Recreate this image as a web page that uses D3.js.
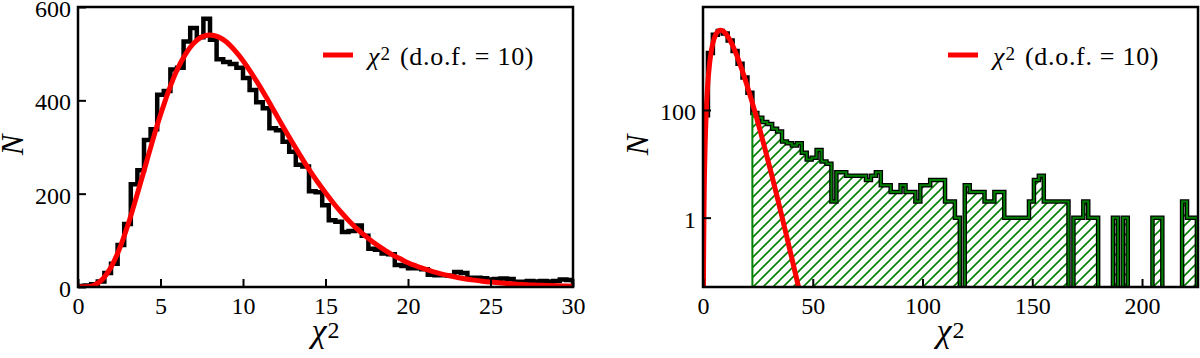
<!DOCTYPE html>
<html>
<head>
<meta charset="utf-8">
<script src="https://cdn.jsdelivr.net/npm/d3@7"></script>
<style>
  body { margin: 0; background: #fff; }
</style>
</head>
<body>
<script>
// ---- data ----
// left panel: chi2 values, bins of 0.4 from 0 to 30
const leftBinWidth = 0.4;
const leftCounts = [
  2, 3, 6, 12, 30, 50, 90, 135, 220, 250,
  315, 338, 412, 420, 466, 470, 526, 555, 535, 575,
  530, 488, 482, 478, 470, 448, 422, 396, 383, 340,
  336, 311, 290, 262, 258, 205, 203, 175, 143, 140,
  118, 120, 132, 110, 82, 80, 72, 70, 47, 45,
  40, 40, 38, 26, 25, 25, 24, 32, 30, 20,
  20, 19, 16, 17, 18, 17, 11, 11, 13, 12,
  13, 12, 13, 16, 15
];

// right panel: same sample, bins of 2.25 from 0 to 225 (log y)
const rightBinWidth = 2.25;
const rightCounts = [
  80, 1150, 2500, 2950, 2650, 1950, 1250, 720, 400, 210,
  88, 72, 60, 55, 45, 40, 26, 24, 22, 24,
  16, 12, 13, 18, 11, 10, 2, 7, 7, 6,
  6, 6, 6, 5, 6, 7, 4, 4, 3, 3,
  4, 3, 3, 2, 4, 4, 5, 5, 5, 2,
  2, 1, 0, 4, 3, 3, 3, 2, 2, 3,
  3, 1, 1, 1, 1, 1, 2, 5, 6, 2,
  2, 2, 2, 2, 0, 1, 1, 2, 1, 1,
  0, 0, 0, 1, 0, 1, 0, 0, 0, 0,
  0, 1, 1, 0, 0, 0, 0, 2, 1, 1
];
const tailStart = 22.5;   // green hatched part starts here

// red chi2 (dof = 10) curve
const curveLeftX = d3.range(0, 30.01, 0.5);
const curveLeftY = [
  0, 0.35, 4.4, 17.2, 42.4, 80.6, 130, 188, 249, 311,
  369, 421, 465, 498, 522, 536, 540, 536, 525, 507,
  485, 459, 431, 401, 370, 339, 309, 280, 252, 226,
  202, 179, 158, 139, 122, 107, 93, 81, 70, 61,
  52, 45, 38.6, 33, 28.2, 24, 20.4, 17.3, 14.7, 12.4,
  10.5, 8.9, 7.5, 6.3, 5.2, 4.4, 3.7, 3.1, 2.6, 2.2, 1.8
];
const curveRightX = [0.1, 0.25, 0.5, 1, 1.5, 2, 3, 4, 5, 6, 7, 8, 9, 10, 12, 14, 16, 18, 20,
  22, 24, 26, 28, 30, 32, 34, 36, 38, 40, 42, 44];
const curveRightY = [0.004, 0.14, 1.97, 24.5, 96.6, 238, 730, 1399, 2073, 2607, 2929, 3031, 2945, 2722,
  2077, 1415, 888, 523, 293, 158, 82.3, 41.7, 20.7, 10.0, 4.77, 2.24, 1.03, 0.472, 0.213, 0.0953, 0.0422];

const leftXTicks = [0, 5, 10, 15, 20, 25, 30];
const leftYTicks = [0, 200, 400, 600];
const rightXTicks = [0, 50, 100, 150, 200];
const rightYTicks = [1, 100];
const legendText = "(d.o.f. = 10)";

// ---- layout ----
const width = 1200, height = 358;
const plotTop = 7, plotBot = 287;
const tickLen = 8;
const red = "#ff0000", green = "#008000";
const serif = "Liberation Serif";

const svg = d3.select("body").append("svg")
  .attr("width", width)
  .attr("height", height)
  .attr("font-family", serif);

const defs = svg.append("defs");
defs.append("pattern")
  .attr("id", "hatch")
  .attr("patternUnits", "userSpaceOnUse")
  .attr("width", 10).attr("height", 10)
  .append("path")
  .attr("d", "M-2,2L2,-2M0,10L10,0M8,12L12,8")
  .attr("stroke", green)
  .attr("stroke-width", 1.6);

function binEdges(n, w) { return d3.range(n + 1).map(i => i * w); }

// step outline of a histogram, starting and ending at the floor value
function stepPoints(edges, counts, floorVal) {
  const pts = [[edges[0], floorVal]];
  counts.forEach((c, i) => pts.push([edges[i], Math.max(c, floorVal)]));
  pts.push([edges[counts.length], Math.max(counts[counts.length - 1], floorVal)]);
  pts.push([edges[counts.length], floorVal]);
  return pts;
}

function panel(id, x0, x1) {
  const g = svg.append("g");
  defs.append("clipPath").attr("id", "clip-" + id)
    .append("rect").attr("x", x0).attr("y", plotTop).attr("width", x1 - x0).attr("height", plotBot - plotTop);
  const plot = g.append("g").attr("clip-path", "url(#clip-" + id + ")");
  return { g, plot };
}

function frame(g, x0, x1) {
  g.append("rect")
    .attr("x", x0).attr("y", plotTop)
    .attr("width", x1 - x0).attr("height", plotBot - plotTop)
    .attr("fill", "none").attr("stroke", "#000").attr("stroke-width", 2.5);
}

function axes(g, xScale, yScale, xTicks, yTicks, x0) {
  const ax = g.append("g")
    .attr("transform", "translate(0," + plotBot + ")")
    .call(d3.axisBottom(xScale).tickValues(xTicks).tickFormat(d3.format("d"))
      .tickSizeInner(-tickLen).tickSizeOuter(0).tickPadding(10));
  const ay = g.append("g")
    .attr("transform", "translate(" + x0 + ",0)")
    .call(d3.axisLeft(yScale).tickValues(yTicks).tickFormat(d3.format("d"))
      .tickSizeInner(-tickLen).tickSizeOuter(0).tickPadding(7));
  [ax, ay].forEach(a => {
    a.attr("font-family", serif).attr("font-size", 24);
    a.select(".domain").remove();
    a.selectAll(".tick line").attr("stroke", "#000").attr("stroke-width", 2);
    a.selectAll(".tick text").attr("fill", "#000").attr("font-family", serif);
  });
  ay.selectAll(".tick text").attr("dy", "0.4em");
}

function labels(g, x0, x1) {
  // x label chi^2
  const xl = g.append("text")
    .attr("x", (x0 + x1) / 2).attr("y", 342)
    .attr("text-anchor", "middle")
    .attr("font-family", serif)
    .attr("font-size", 34);
  xl.append("tspan").attr("font-style", "italic").text("χ");
  xl.append("tspan").attr("font-size", 24).attr("dx", 1).attr("dy", -4).text("2");
  // y label N
  g.append("text")
    .attr("transform", "translate(" + (x0 - 55) + "," + ((plotTop + plotBot) / 2 - 2) + ") rotate(-90)")
    .attr("text-anchor", "middle")
    .attr("font-family", serif)
    .attr("font-size", 31)
    .attr("font-style", "italic")
    .text("N");
  // legend
  const lx = x1 - 250, ly = 55;
  g.append("line")
    .attr("x1", lx).attr("x2", lx + 30)
    .attr("y1", ly).attr("y2", ly)
    .attr("stroke", red).attr("stroke-width", 5);
  const lt = g.append("text")
    .attr("x", lx + 45).attr("y", ly + 10)
    .attr("font-family", serif)
    .attr("font-size", 26);
  lt.append("tspan").attr("font-style", "italic").text("χ");
  lt.append("tspan").attr("font-size", 19).attr("dx", 1).attr("dy", -5).text("2");
  lt.append("tspan").attr("dx", 10).attr("dy", 5).attr("letter-spacing", 0.7).text(legendText);
}

// ---- left panel: linear ----
{
  const x0 = 78, x1 = 573;
  const x = d3.scaleLinear().domain([0, 30]).range([x0, x1]);
  const y = d3.scaleLinear().domain([0, 600]).range([plotBot, plotTop]);
  const { g, plot } = panel("l", x0, x1);
  const edges = binEdges(leftCounts.length, leftBinWidth);
  const line = d3.line().x(d => x(d[0])).y(d => y(d[1])).curve(d3.curveStepAfter);
  plot.append("path")
    .attr("d", line(stepPoints(edges, leftCounts, 0)))
    .attr("fill", "none").attr("stroke", "#000").attr("stroke-width", 4.5);
  const curve = d3.line().x(d => x(d[0])).y(d => y(d[1])).curve(d3.curveMonotoneX);
  plot.append("path")
    .attr("d", curve(curveLeftX.map((v, i) => [v, curveLeftY[i]])))
    .attr("fill", "none").attr("stroke", red).attr("stroke-width", 5);
  frame(g, x0, x1);
  axes(g, x, y, leftXTicks, leftYTicks, x0);
  labels(g, x0, x1);
}

// ---- right panel: log ----
{
  const x0 = 703, x1 = 1198;
  const x = d3.scaleLinear().domain([0, 225.5]).range([x0, x1]);
  const y = d3.scaleLog().domain([0.0515, 8200]).range([plotBot, plotTop]);
  const floorVal = 0.01;
  const { g, plot } = panel("r", x0, x1);
  const edges = binEdges(rightCounts.length, rightBinWidth);
  const line = d3.line().x(d => x(d[0])).y(d => y(d[1])).curve(d3.curveStepAfter);

  // tail part (green, hatched)
  const k0 = Math.round(tailStart / rightBinWidth);
  const tailEdges = edges.slice(k0);
  const tailCounts = rightCounts.slice(k0);
  const tailPts = stepPoints(tailEdges, tailCounts, floorVal);
  plot.append("path")
    .attr("d", line(tailPts) + "Z")
    .attr("fill", "url(#hatch)").attr("stroke", "none");
  plot.append("path")
    .attr("d", line(stepPoints(edges, rightCounts, floorVal)))
    .attr("fill", "none").attr("stroke", "#000").attr("stroke-width", 4.5);
  plot.append("path")
    .attr("d", line(tailPts))
    .attr("fill", "none").attr("stroke", green).attr("stroke-width", 2);

  const curve = d3.line().x(d => x(d[0])).y(d => y(d[1])).curve(d3.curveMonotoneX);
  plot.append("path")
    .attr("d", curve(curveRightX.map((v, i) => [v, curveRightY[i]])))
    .attr("fill", "none").attr("stroke", red).attr("stroke-width", 5);
  frame(g, x0, x1);
  axes(g, x, y, rightXTicks, rightYTicks, x0);
  labels(g, x0, x1);
}
</script>
</body>
</html>
